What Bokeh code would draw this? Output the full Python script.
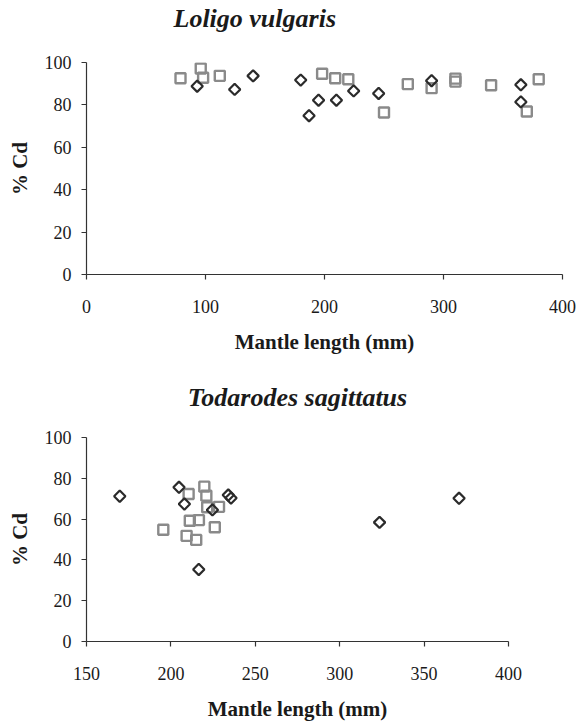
import numpy as np
from bokeh.plotting import figure
from bokeh.models import Range1d, FixedTicker, Title
from bokeh.embed import file_html
from bokeh.resources import INLINE

# ---- Loligo vulgaris (top panel) ----
lv_title = "Loligo vulgaris"
lv_xticks = [0, 100, 200, 300, 400]
lv_sq_x = [79, 96, 98, 112, 198, 209, 220, 250, 270, 290, 310, 310, 340, 370, 380]
lv_sq_y = [92.6, 97.2, 92.8, 93.7, 94.7, 92.6, 92.1, 76.4, 89.8, 87.9, 92.4, 91.0, 89.3, 76.9, 92.1]
lv_di_x = [93, 124.5, 140, 180, 187, 195, 210, 224.5, 245.5, 290, 365, 365]
lv_di_y = [88.8, 87.3, 93.7, 91.7, 74.9, 82.2, 82.2, 86.6, 85.4, 91.4, 89.5, 81.4]

# ---- Todarodes sagittatus (bottom panel) ----
ts_title = "Todarodes sagittatus"
ts_xticks = [150, 200, 250, 300, 350, 400]
ts_sq_x = [195.5, 210.5, 211.2, 216.6, 209.3, 215.0, 219.8, 221.0, 221.5, 228.5, 226.0]
ts_sq_y = [54.8, 72.3, 59.2, 59.5, 51.8, 49.8, 75.9, 71.5, 65.8, 66.0, 56.0]
ts_di_x = [169.7, 204.8, 208.0, 216.5, 224.6, 234.0, 235.6, 323.6, 370.7]
ts_di_y = [71.2, 75.6, 67.4, 35.3, 64.5, 71.8, 70.3, 58.4, 70.2]

yticks = [0, 20, 40, 60, 80, 100]
x_label = "Mantle length (mm)"
y_label = "% Cd"

SERIF = "Liberation Serif"
SQ_COLOR = "#8a8a8a"
DI_COLOR = "#2b2b2b"
AX_COLOR = "#333333"
TXT_COLOR = "#1a1a1a"


def make_panel(title, xr, xticks, sq_x, sq_y, di_x, di_y, height, borders,
               title_align, title_offset, gap):
    left, right, top, bottom = borders
    p = figure(width=580, height=height, x_range=Range1d(*xr), y_range=Range1d(0, 100),
               toolbar_location=None, output_backend="svg", title=None,
               min_border_left=left, min_border_right=right,
               min_border_top=top, min_border_bottom=bottom)
    # spacing between the frame and the title (added first: sits next to the frame)
    p.add_layout(Title(text=" ", text_font_size="1px", standoff=gap), "above")
    p.add_layout(Title(text=title, align=title_align, offset=title_offset, standoff=0,
                       text_font=SERIF, text_font_style="bold italic",
                       text_font_size="26px", text_color=TXT_COLOR), "above")

    p.scatter(sq_x, sq_y, marker="square", size=10, fill_color=None,
              line_color=SQ_COLOR, line_width=2.4)
    p.scatter(di_x, di_y, marker="square", angle=np.pi / 4, size=8, fill_color=None,
              line_color=DI_COLOR, line_width=2.2)

    p.xaxis.ticker = FixedTicker(ticks=xticks)
    p.yaxis.ticker = FixedTicker(ticks=yticks)
    p.xaxis.axis_label = x_label
    p.yaxis.axis_label = y_label
    for ax in (p.xaxis[0], p.yaxis[0]):
        ax.axis_line_color = AX_COLOR
        ax.axis_line_width = 1.2
        ax.major_tick_line_color = AX_COLOR
        ax.major_tick_line_width = 1.2
        ax.minor_tick_line_color = None
        ax.major_tick_in = 0
        ax.major_tick_out = 5
        ax.major_label_text_font = SERIF
        ax.major_label_text_font_size = "18px"
        ax.major_label_text_color = TXT_COLOR
        ax.axis_label_text_font = SERIF
        ax.axis_label_text_font_style = "bold"
        ax.axis_label_text_font_size = "21px"
        ax.axis_label_text_color = TXT_COLOR
    p.xaxis.major_label_standoff = 20
    p.yaxis.major_label_standoff = 10
    p.xaxis.axis_label_standoff = 14
    p.yaxis.axis_label_standoff = 10
    p.xgrid.visible = False
    p.ygrid.visible = False
    p.outline_line_color = None
    p.background_fill_color = "white"
    p.border_fill_color = "white"
    return p


p1 = make_panel(lv_title, (0, 400), lv_xticks, lv_sq_x, lv_sq_y, lv_di_x, lv_di_y,
                360, (86, 18, 62, 86), "left", 87, 27)
p2 = make_panel(ts_title, (150, 400), ts_xticks, ts_sq_x, ts_sq_y, ts_di_x, ts_di_y,
                363, (86, 72, 77, 82), "center", 0, 23)

open("out.html", "w").write(file_html([p1, p2], INLINE))
